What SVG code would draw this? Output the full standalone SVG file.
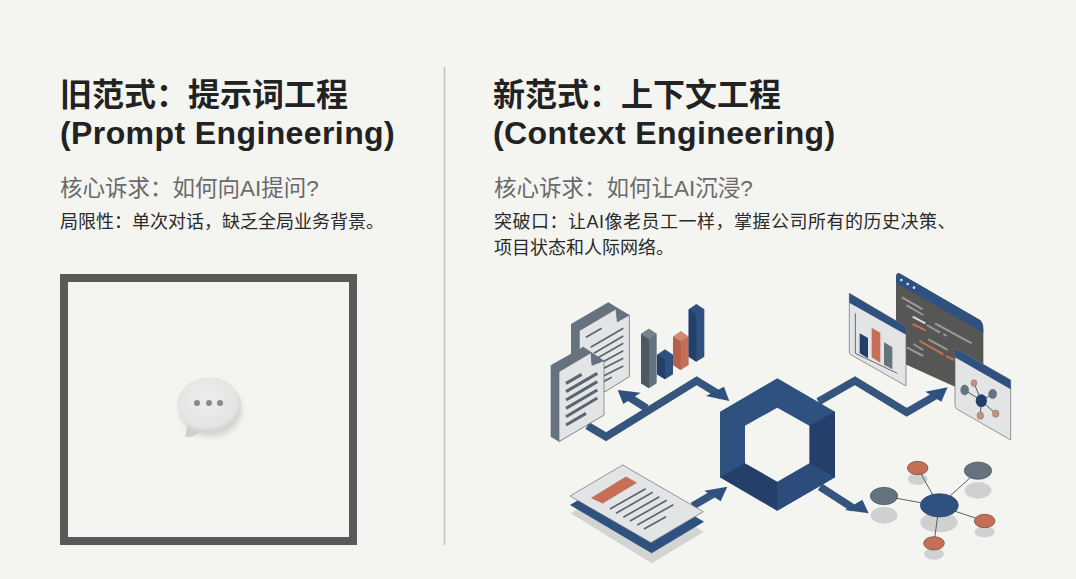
<svg xmlns="http://www.w3.org/2000/svg" width="1076" height="579" viewBox="0 0 1076 579">
<defs>
<style>
text{font-family:"Liberation Sans","Noto Sans CJK SC",sans-serif}
.h{font-size:32px;font-weight:700;fill:#222}
.w{letter-spacing:.4px}
.s{font-size:22.500px;fill:#6a6a6a}
.b{font-size:18px;fill:#2a2a2a}
.n{fill:#2f5180}.d{fill:#24406a}.o{fill:#c76f56}.g{fill:#66727e}.p{fill:#e2e4e6;stroke:#66686a;stroke-width:2}
.l{stroke:#5b6570;stroke-width:9;fill:none}
.a{fill:none;stroke:#35557f;stroke-width:23}
</style>
<radialGradient id="bub" cx=".45" cy=".4" r=".65"><stop offset="0" stop-color="#eeeeec"/><stop offset=".75" stop-color="#e4e4e2"/><stop offset="1" stop-color="#c8c8c6"/></radialGradient>
<filter id="blur" x="-30%" y="-30%" width="160%" height="160%"><feGaussianBlur stdDeviation="3"/></filter>
</defs>
<rect width="1076" height="579" fill="#f4f5f1"/>
<line x1="444.500" y1="67" x2="444.500" y2="545" stroke="#bfc0be" stroke-width="1.500"/>
<g id="old-text">
<text class="h" x="60" y="106">旧范式：提示词工程</text>
<text class="h w" x="60" y="144">(Prompt Engineering)</text>
<text class="s" x="60" y="196">核心诉求：如何向AI提问?</text>
<text class="b" x="60" y="228">局限性：单次对话，缺乏全局业务背景。</text>
</g>
<g id="new-text">
<text class="h" x="493" y="106">新范式：上下文工程</text>
<text class="h w" x="493" y="144">(Context Engineering)</text>
<text class="s" x="494" y="196">核心诉求：如何让AI沉浸?</text>
<text class="b" x="494" y="228" letter-spacing=".5">突破口：让AI像老员工一样，掌握公司所有的历史决策、</text>
<text class="b" x="494" y="254">项目状态和人际网络。</text>
</g>
<g id="box"><rect x="64" y="278" width="289" height="263" fill="none" stroke="#595959" stroke-width="8"/></g>
<g id="bubble">
<ellipse cx="211" cy="410" rx="30" ry="26" fill="#888" opacity=".35" filter="url(#blur)"/>
<path d="M188 424L185 437C192 438 197 435 203 429Z" fill="#cfcfcd"/>
<ellipse cx="209" cy="405" rx="32" ry="28" fill="url(#bub)"/>
<circle cx="197" cy="403" r="3" fill="#8a8a8a"/><circle cx="209" cy="403" r="3" fill="#8a8a8a"/><circle cx="220" cy="403" r="3" fill="#8a8a8a"/>
</g>
<g id="connectors">
<g transform="translate(530 260) scale(.33333)">
<path class="a" d="M172 497L228 530L500 362L575 408"/>
<path class="a" d="M350 445L295 410"/>
<path class="n" d="M263 390L332 398L280 432Z"/>
<path class="n" d="M598 423L528 408L582 380Z"/>
</g>
<g transform="translate(780 260) scale(.33333)">
<path class="a" d="M115 425L225 362L380 457L470 405"/>
<path class="n" d="M503 382L436 395L484 425Z"/>
</g>
<g transform="translate(550 430) scale(.33333)">
<path class="a" d="M428 228L490 192"/>
<path class="n" d="M532 170L463 182L512 214Z"/>
</g>
<g transform="translate(790 430) scale(.33333)">
<path class="a" d="M90 170L190 235"/>
<path class="n" d="M236 250L165 240L217 209Z"/>
</g>
</g>
<g id="hexagon" transform="translate(700 360) scale(.33333)">
<path class="n" d="M232 55L405 155V352L232 452L60 352V155Z"/>
<path class="d" d="M60 352L135 310L232 365V452Z"/>
<path d="M232 365L328 310L405 352L232 452Z" fill="#2c4d7c"/>
<path class="d" d="M328 197L405 155V352L328 310Z"/>
<path d="M232 143L328 197V310L232 365L135 310V197Z" fill="#f4f5f1"/>
</g>
<g id="docs" transform="translate(530 260) scale(.33333)">
<path class="g" d="M123 192L235 127L298 165V350L225 395L123 330Z"/>
<path class="p" d="M148 212L258 147L262 185L298 165V350L225 395L148 350Z"/>
<path class="g" d="M258 147L298 165L262 185Z"/>
<path class="l" style="stroke-width:5" d="M168 232L215 205M182 262L280 205M192 280L280 228M192 300L280 250M192 320L280 272M192 340L280 295M192 362L280 318M192 380L245 352"/>
<path class="g" d="M62 316L160 260L222 302V465L87 545L62 530Z"/>
<path class="p" d="M87 335L183 278L186 316L222 302V465L87 545Z"/>
<path class="g" d="M183 278L222 302L186 316Z"/>
<path class="l" d="M108 370L155 343M108 395L202 340M108 420L202 365M108 445L202 390M108 470L202 414M108 495L168 460"/>
</g>
<g id="bars" transform="translate(530 260) scale(.33333)">
<path d="M333 222L357 206L380 222V370L357 385L333 370Z" fill="#66727e"/><path d="M333 222L357 238V385L333 370Z" fill="#4c5862"/><path d="M333 222L357 206L380 222L357 238Z" fill="#77828c"/>
<path class="n" d="M381 284L405 268L429 284V343L405 358L381 343Z"/><path class="d" d="M381 284L405 298V358L381 343Z"/>
<path class="o" d="M429 230L452 214L476 230V315L452 330L429 315Z"/><path d="M429 230L452 244V330L429 315Z" fill="#b5604a"/><path d="M429 230L452 214L476 230L452 244Z" fill="#d38a72"/>
<path class="n" d="M476 148L499 132L523 148V290L499 305L476 290Z"/><path class="d" d="M476 148L499 163V305L476 290Z"/>
</g>
<g id="windows" transform="translate(780 260) scale(.33333)">
<path d="M348 50Q350 35 362 42L600 180Q610 188 610 205V320L525 380L348 300Z" fill="#565654"/>
<path class="n" d="M348 50Q350 35 362 42L600 180Q610 188 610 218L348 68Z"/>
<circle cx="364" cy="60" r="4" fill="#dde"/><circle cx="383" cy="72" r="4" fill="#dde"/><circle cx="402" cy="83" r="4" fill="#dde"/>
<path d="M366 112L428 148M380 136L430 165M465 190L575 250M440 195L480 218M490 222L500 228M445 238L503 270M400 252L430 270M380 262L430 288" stroke="#9a9a98" stroke-width="6" fill="none"/>
<path d="M398 170L436 190" stroke="#ddd" stroke-width="6"/><path d="M398 192L438 212M418 242L490 283M498 288L522 300" stroke="#c76f56" stroke-width="6"/>
<path class="p" d="M208 100L378 200V378L214 285Q208 282 208 275Z"/>
<path class="n" d="M208 100L378 200V224L208 128Z"/>
<path d="M226 160V280L352 340" fill="none" stroke="#66686a" stroke-width="3"/>
<path class="d" d="M239 220L264 234V295L239 280Z"/><path class="o" d="M275 203L301 218V308L275 292Z"/><path class="g" d="M312 247L337 262V328L312 314Z"/>
<path class="p" d="M525 265L692 360V540L532 448Q525 444 525 436Z"/>
<path class="n" d="M525 265L692 360V388L525 292Z"/>
<path d="M604 422L554 390M604 422L582 370M604 422L638 402M604 422L601 466M604 422L646 460" stroke="#555" stroke-width="3"/>
<ellipse cx="604" cy="422" rx="17" ry="19" class="d"/>
<ellipse cx="554" cy="390" rx="12" ry="15" class="g" stroke="#444"/><ellipse cx="582" cy="369" rx="9" ry="10" fill="#c99079" stroke="#555"/><ellipse cx="638" cy="402" rx="12" ry="14" class="g" stroke="#444"/><ellipse cx="601" cy="467" rx="10" ry="11" fill="#c99079" stroke="#555"/><ellipse cx="647" cy="461" rx="10" ry="11" fill="#c99079" stroke="#555"/>
</g>
<g id="page" transform="translate(550 430) scale(.33333)">
<path d="M62 250L305 400L462 305L218 160Z" fill="#d2d4d4"/>
<path class="n" d="M60 225L305 370L462 275L218 130Z"/>
<path class="p" d="M60 198L218 105L460 245L303 338Z"/>
<path class="o" stroke="#a65a44" d="M124 204L228 140L260 158L158 220Z"/>
<path class="l" style="stroke-width:5" d="M180 237L287 176M198 250L308 187M220 262L328 200M240 273L350 211M262 285L370 224M282 297L348 260"/>
</g>
<g id="network" transform="translate(790 430) scale(.33333)">
<g fill="#cfd1d1"><ellipse cx="282" cy="256" rx="40" ry="25"/><ellipse cx="383" cy="147" rx="30" ry="18"/><ellipse cx="564" cy="181" rx="40" ry="25"/><ellipse cx="447" cy="277" rx="56" ry="30"/><ellipse cx="584" cy="305" rx="30" ry="17"/><ellipse cx="432" cy="372" rx="30" ry="17"/></g>
<path d="M447 228L282 198M447 228L383 114M447 228L564 122M447 228L584 273M447 228L432 340" stroke="#5a5f63" stroke-width="3"/>
<ellipse cx="448" cy="226" rx="57" ry="35" class="n" stroke="#24406a" stroke-width="2"/>
<ellipse cx="282" cy="198" rx="41" ry="26" class="g" stroke="#3f4a54" stroke-width="2"/>
<ellipse cx="564" cy="122" rx="41" ry="26" class="g" stroke="#3f4a54" stroke-width="2"/>
<ellipse cx="383" cy="114" rx="31" ry="20" class="o" stroke="#5f4038" stroke-width="2"/>
<ellipse cx="584" cy="273" rx="31" ry="20" class="o" stroke="#5f4038" stroke-width="2"/>
<ellipse cx="432" cy="340" rx="31" ry="20" class="o" stroke="#5f4038" stroke-width="2"/>
</g>
</svg>
